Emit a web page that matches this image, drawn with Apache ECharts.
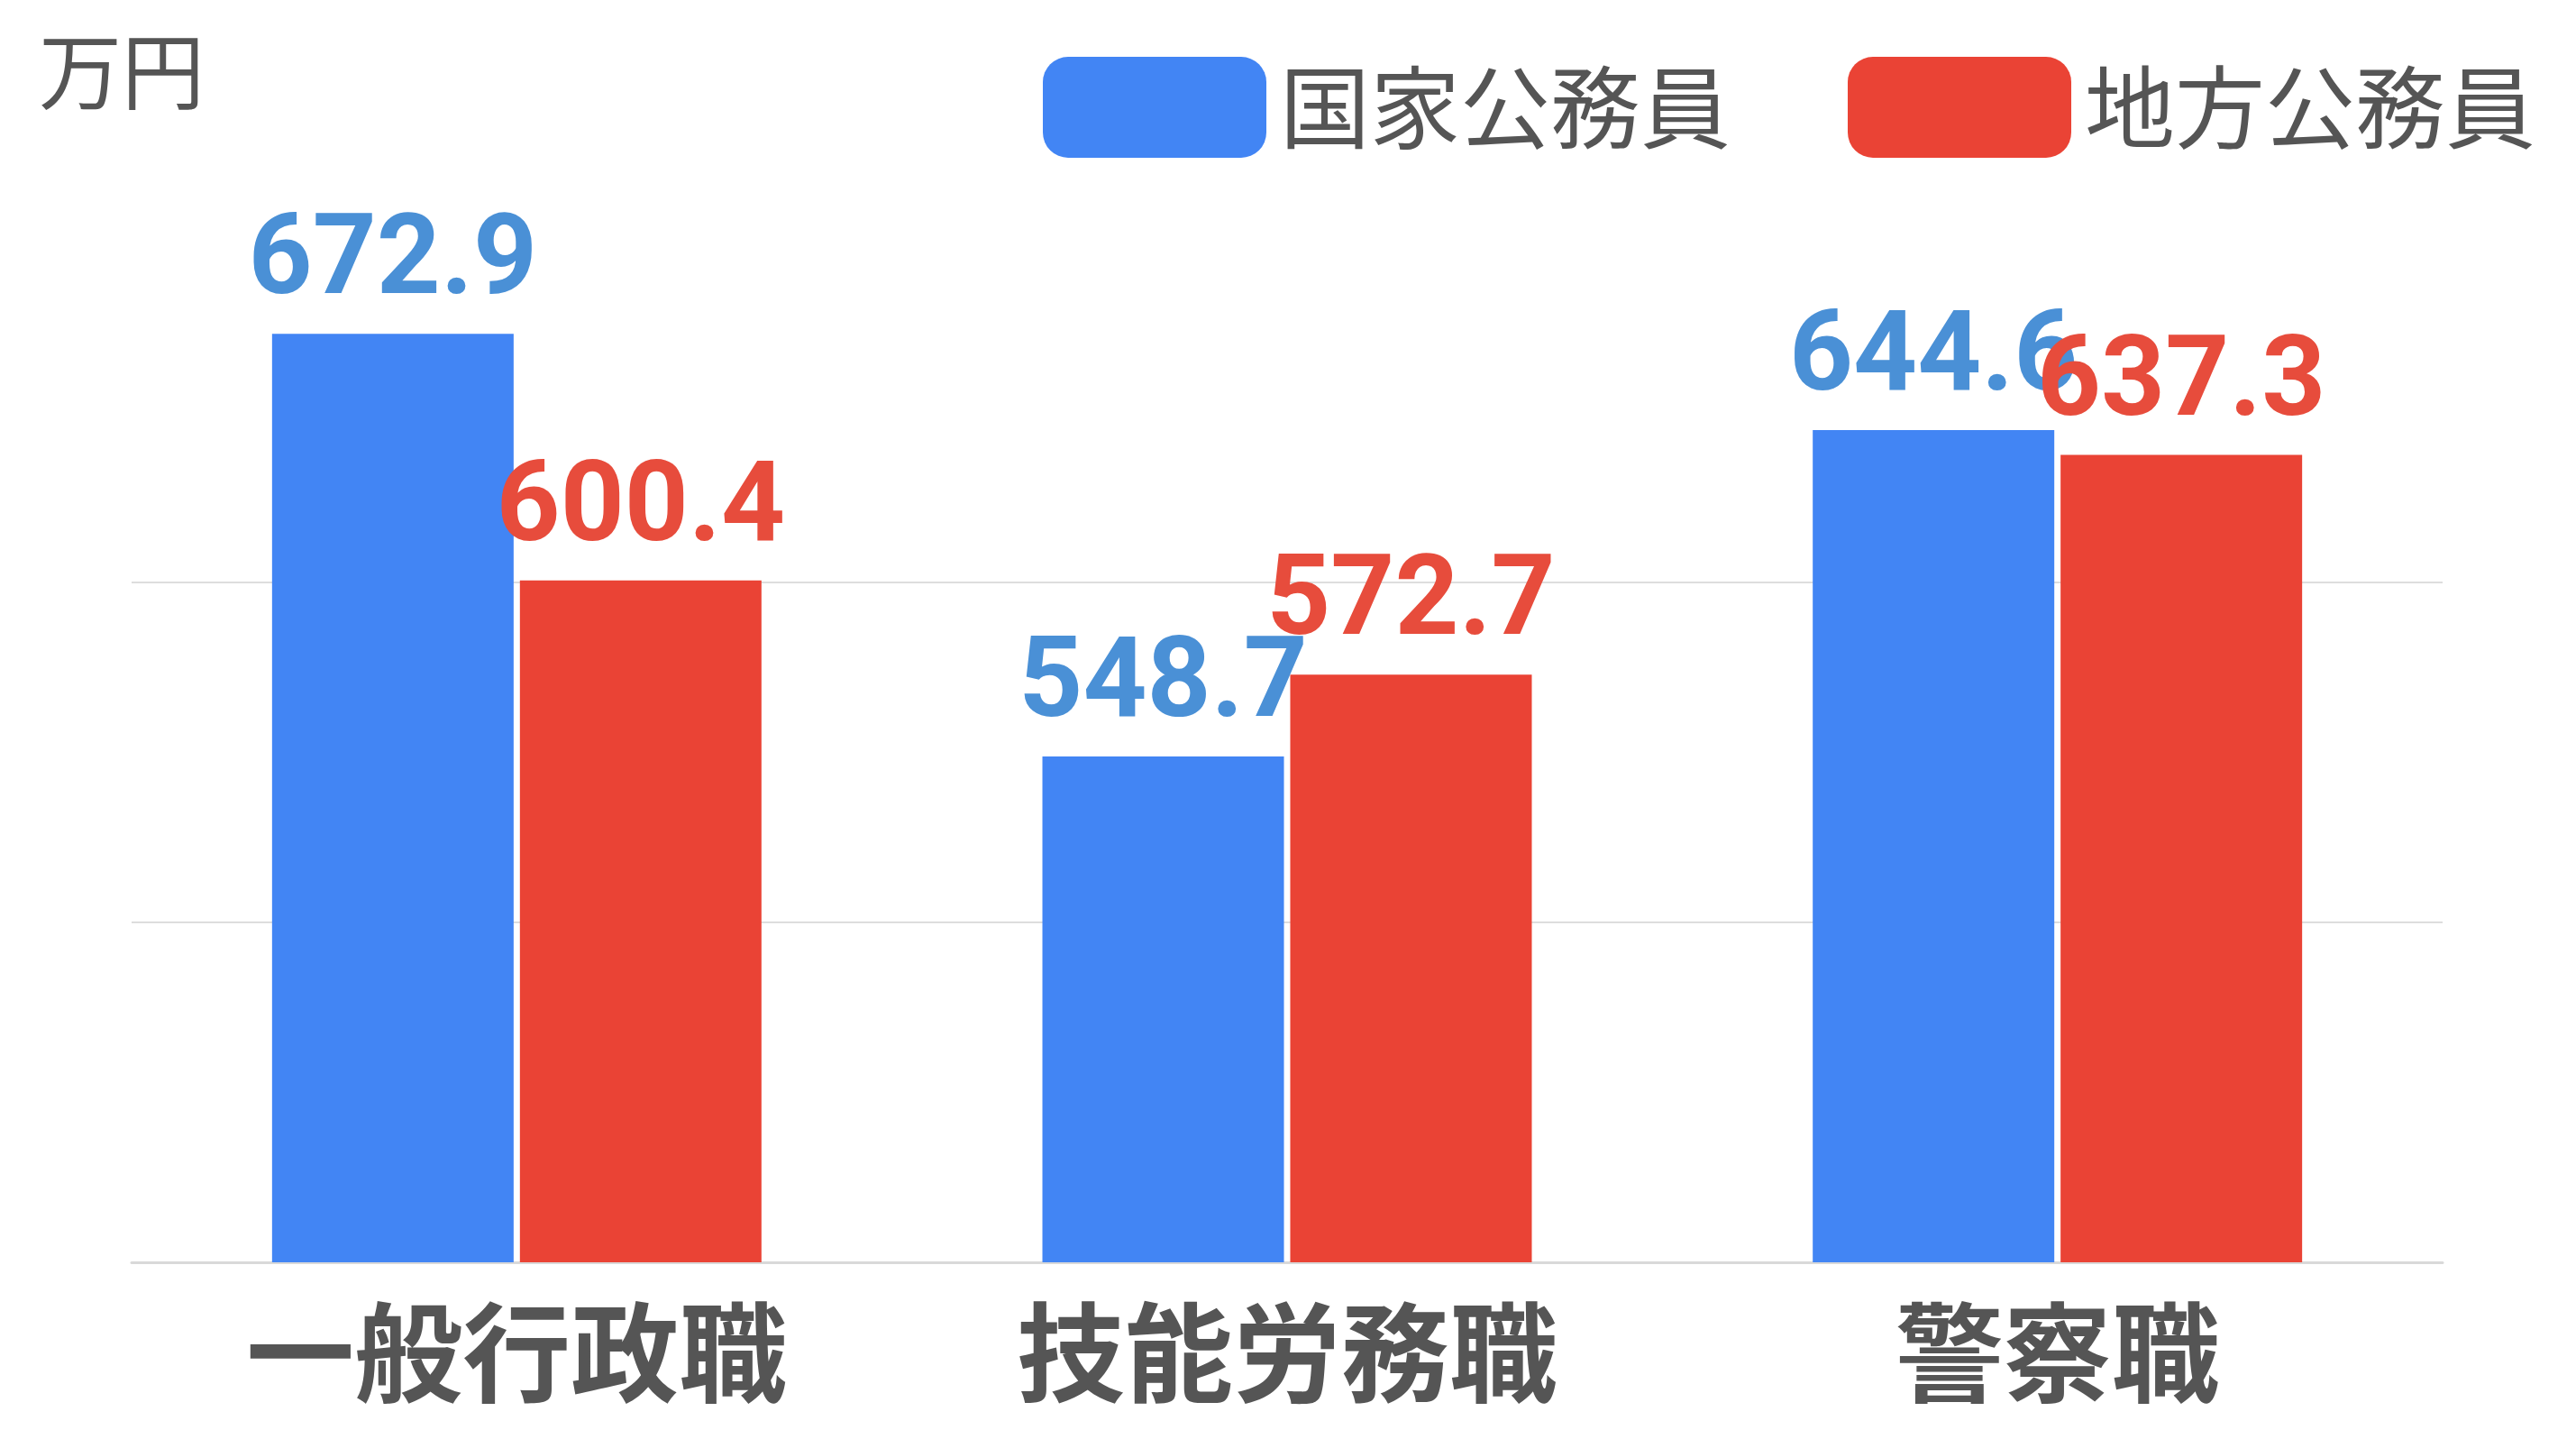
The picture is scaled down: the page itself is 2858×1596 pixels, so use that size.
<!DOCTYPE html>
<html><head><meta charset="utf-8">
<script src="https://cdn.jsdelivr.net/npm/echarts@6/dist/echarts.min.js"></script>
<style>html,body{margin:0;padding:0;background:#fff}#c{width:2858px;height:1596px}</style>
</head><body><div id="c"></div>
<script>
const categories = ['一般行政職', '技能労務職', '警察職'];
const national = [672.9, 548.7, 644.6];
const local = [600.4, 572.7, 637.3];
const seriesNames = ['国家公務員', '地方公務員'];
const unit = '万円';
const font = '"Noto Sans CJK JP", "Noto Sans", sans-serif';
const chart = echarts.init(document.getElementById('c'));
chart.setOption({
  textStyle: { fontFamily: font },
  title: { text: unit, left: 38, top: 28, textStyle: { fontSize: 92, fontWeight: 'normal', color: '#555', fontFamily: font } },
  legend: {
    right: 40, top: 58, itemWidth: 248, itemHeight: 112, itemGap: 130,
    icon: 'roundRect',
    textStyle: { fontSize: 100, color: '#555', fontFamily: font, padding: [0, 0, 0, 10] },
    data: seriesNames
  },
  grid: { left: 146, right: 148, top: 268, bottom: 196 },
  xAxis: {
    type: 'category', data: categories,
    axisLine: { lineStyle: { color: '#d9d9d9', width: 3 } },
    axisTick: { show: false },
    axisLabel: { fontSize: 120, fontWeight: 'bold', color: '#555', margin: 40, fontFamily: font }
  },
  yAxis: {
    type: 'value', min: 400, max: 700, interval: 100,
    axisLabel: { show: false }, axisLine: { show: false }, axisTick: { show: false },
    splitLine: { lineStyle: { color: ['#dddddd', '#dddddd', '#dddddd', 'rgba(0,0,0,0)'], width: 2 } }
  },
  series: [
    { name: seriesNames[0], type: 'bar', data: national, barWidth: 268, barGap: '2.6%',
      itemStyle: { color: '#4285F4' },
      label: { show: true, position: 'top', distance: 14, fontSize: 124, fontWeight: 'bold', color: '#4A90D6', fontFamily: 'Roboto, "Liberation Sans", sans-serif' } },
    { name: seriesNames[1], type: 'bar', data: local, barWidth: 268,
      itemStyle: { color: '#EA4335' },
      label: { show: true, position: 'top', distance: 14, fontSize: 124, fontWeight: 'bold', color: '#E74C3C', fontFamily: 'Roboto, "Liberation Sans", sans-serif' } }
  ]
});
</script></body></html>
